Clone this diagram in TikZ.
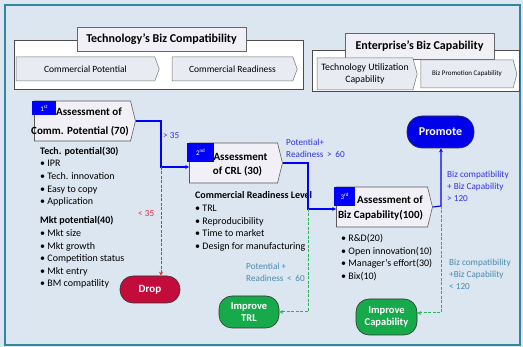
\documentclass[tikz,border=0pt]{standalone}
\usepackage{fontspec}
\setmainfont{Carlito}
\usetikzlibrary{shapes.symbols,arrows.meta}
\definecolor{bgc}{RGB}{220,230,241}
\definecolor{framec}{RGB}{49,133,156}
\definecolor{boxc}{RGB}{240,240,246}
\definecolor{chevc}{RGB}{232,235,242}
\definecolor{lblue}{RGB}{0,0,255}
\definecolor{tblue}{RGB}{50,50,230}
\definecolor{redc}{RGB}{232,40,60}
\definecolor{dropc}{RGB}{196,12,60}
\definecolor{greenc}{RGB}{40,180,90}
\definecolor{impc}{RGB}{22,170,75}
\definecolor{tealc}{RGB}{70,140,175}
\tikzset{
  grp/.style={draw=black!70, fill=white, line width=0.6pt, minimum width=#1, anchor=north west, inner sep=0},
  ttl/.style={draw=black!60, fill=boxc, font=\fontsize{12}{14}\selectfont\bfseries, inner sep=0, line width=0.5pt},
  chev/.style={signal, signal to=east, signal from=nowhere, draw=black!55, fill=chevc, inner sep=0, line width=0.5pt, font=\fontsize{9.5}{11}\selectfont},
  abox/.style={signal, signal to=east, signal from=nowhere, signal pointer angle=152, draw=black!65, fill=boxc, inner sep=0, line width=0.6pt},
  num/.style={fill=lblue, text=white, inner sep=0, anchor=north west, font=\fontsize{7}{8}\selectfont},
  atext/.style={font=\fontsize{11}{13}\selectfont\bfseries, inner sep=0},
  term/.style={draw=black!80, rounded corners=13pt, text=white, font=\fontsize{11}{12.5}\selectfont\bfseries, align=center, inner sep=0, line width=0.6pt},
  lst/.style={anchor=west, align=left, inner sep=0, font=\fontsize{10}{12.6}\selectfont},
  lbl/.style={anchor=west, align=left, inner sep=0, font=\fontsize{9.2}{12}\selectfont},
  bline/.style={draw=lblue, line width=1.1pt},
  barrow/.style={bline, -{Stealth[length=4pt,width=4pt]}},
  rdash/.style={draw=redc, line width=1pt, dash pattern=on 3pt off 1.5pt, -{Stealth[length=4pt,width=4pt]}},
  gdash/.style={draw=greenc, line width=1pt, dash pattern=on 3pt off 1.5pt, -{Stealth[length=4pt,width=4pt]}}
}
\begin{document}
\begin{tikzpicture}[x=1pt,y=-1pt]
\useasboundingbox (0,0) rectangle (523,347);
\fill[bgc] (0,0) rectangle (523,347);
\draw[framec, line width=2pt, fill=bgc] (5,5) rectangle (520,345);

% Technology group
\node[grp=289pt, minimum height=49pt] (tg) at (14,40) {};
\node[ttl, minimum width=169pt, minimum height=24pt] (tt) at (161.5,39) {Technology's Biz Compatibility};
\node[chev, minimum width=143pt, minimum height=24pt, signal pointer angle=139] (cp) at (85.5,69) {Commercial Potential};
\node[chev, minimum width=125pt, minimum height=24pt, signal pointer angle=139] (cr) at (232.5,69) {Commercial Readiness};

% Enterprise group
\node[grp=207pt, minimum height=41pt] (eg) at (312,50) {};
\node[ttl, minimum width=149pt, minimum height=26pt] (et) at (419.5,46) {Enterprise's Biz Capability};
\node[chev, minimum width=100pt, minimum height=32pt, signal pointer angle=150, align=center, font=\fontsize{9.8}{11.5}\selectfont] (tu) at (365,74) {Technology Utilization\\Capability};
\node[chev, minimum width=96pt, minimum height=28pt, signal pointer angle=150, font=\fontsize{7}{8}\selectfont] (bp) at (467,74) {Biz Promotion Capability};

% Assessment boxes
\node[abox, minimum width=101pt, minimum height=40pt] (a1) at (82.5,121) {};
\node[num, minimum width=24pt, minimum height=14pt] (n1) at (32,101) {1\textsuperscript{st}};
\node[atext] (a1t1) at (89,112) {Assessment of};
\node[atext] (a1t2) at (80,131) {Comm. Potential (70)};

\node[abox, minimum width=93pt, minimum height=40pt] (a2) at (233.5,163) {};
\node[num, minimum width=27pt, minimum height=19pt] (n2) at (187,143) {2\textsuperscript{nd}};
\node[atext] (a2t1) at (240.5,157) {Assessment};
\node[atext] (a2t2) at (237.5,171) {of CRL (30)};

\node[abox, minimum width=96pt, minimum height=40pt] (a3) at (382,207) {};
\node[num, minimum width=21pt, minimum height=19pt] (n3) at (334,187) {3\textsuperscript{rd}};
\node[atext] (a3t1) at (390,200) {Assessment of};
\node[atext] (a3t2) at (380.5,215) {Biz Capability(100)};

% Terminals
\node[term, fill=dropc, minimum width=60pt, minimum height=27pt] (drop) at (150,289.5) {Drop};
\node[term, fill=impc, minimum width=60pt, minimum height=32pt, font=\fontsize{10.5}{12.5}\selectfont\bfseries] (itrl) at (249,312) {Improve\\TRL};
\node[term, fill=lblue!92!black, minimum width=67pt, minimum height=32pt, rounded corners=15pt, font=\fontsize{12}{14}\selectfont\bfseries] (prom) at (440.5,132) {Promote};
\node[term, fill=impc, minimum width=61pt, minimum height=36pt, font=\fontsize{10.5}{12.5}\selectfont\bfseries] (icap) at (386.5,317) {Improve\\Capability};

% Lists
\node[lst] (l1) at (40,176.5) {\textbf{Tech. potential(30)}\\• IPR\\• Tech. innovation\\• Easy to copy\\• Application};
\node[lst] (l2) at (40,252.5) {\textbf{Mkt potential(40)}\\• Mkt size\\• Mkt growth\\• Competition status\\• Mkt entry\\• BM compatility};
\node[lst] (l3) at (195,221.5) {\textbf{Commercial Readiness Level}\\• TRL\\• Reproducibility\\• Time to market\\• Design for manufacturing};
\node[lst] (l4) at (341,257.5) {• R\&D(20)\\• Open innovation(10)\\• Manager's effort(30)\\• Bix(10)};

% Connectors
\coordinate (j1) at (161,167);
\coordinate (j2) at (308,209);
\coordinate (j3) at (441,206);
\coordinate (j4) at (441,313);
\draw[barrow] (a1.east) -| (j1) -- (j1 -| a2.west);
\draw[rdash] (j1) -- (j1 |- drop.north);
\draw[barrow] (a2.east) -| (j2) -- (j2 -| a3.west);
\draw[gdash] (j2) |- (itrl.east);
\draw[barrow] (a3.east) -- (j3) -- (j3 |- prom.south);
\draw[gdash] (j3) -- (j4) -- (j4 -| icap.east);

% Labels
\node[lbl, text=tblue] (g1) at (163,136) {> 35};
\node[lbl, text=redc] (r1) at (138,214) {< 35};
\node[lbl, text=tblue] (g2) at (286,148.5) {Potential+\\Readiness \,>\, 60};
\node[lbl, text=tealc] (r2) at (246,272) {Potential +\\Readiness \,<\, 60};
\node[lbl, text=tblue] (g3) at (447,186) {Biz compatibility\\+ Biz Capability\\> 120};
\node[lbl, text=tealc] (r3) at (449,274) {Biz compatibility\\+Biz Capability\\< 120};
\end{tikzpicture}
\end{document}
